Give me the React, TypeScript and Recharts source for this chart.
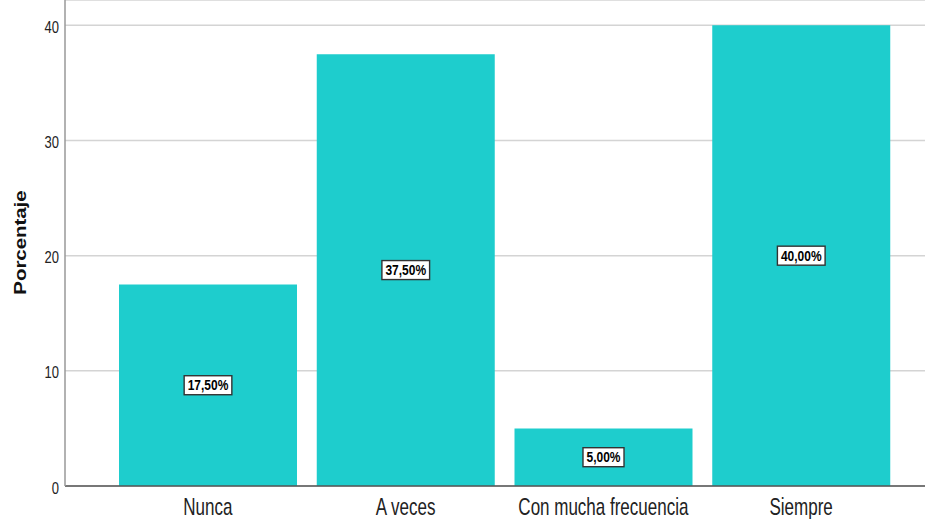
import React from 'react';
import {
    BarChart,
    Bar,
    XAxis,
    YAxis,
    CartesianGrid,
    LabelList,
} from 'recharts';

const categories = ['Nunca', 'A veces', 'Con mucha frecuencia', 'Siempre'];
const percentages = [17.5, 37.5, 5, 40];
const yTicks = [0, 10, 20, 30, 40];

const data = categories.map((c, i) => ({ categoria: c, porcentaje: percentages[i] }));

const FONT = "'Liberation Sans', Arial, sans-serif";
const BAR_COLOR = '#1ecdcd';

const fmt = (v: number) => `${v.toFixed(2).replace('.', ',')}%`;

// rough bold Arial advance widths, just to size the label boxes
const textWidth = (s: string, size: number) =>
    s.split('').reduce((a, ch) => a + (ch === '%' ? 0.889 : ch === ',' ? 0.278 : 0.556), 0) * size;

const XTick = (props: any) => {
    const { x, y, payload } = props;
    return (
        <text
            transform={`translate(${x},${y}) scale(1,1.4)`}
            textAnchor="middle"
            dy="0.71em"
            fontFamily={FONT}
            fontSize={17}
            fill="#222"
        >
            {payload.value}
        </text>
    );
};

const YTick = (props: any) => {
    const { x, y, payload } = props;
    return (
        <text
            transform={`translate(${x},${y + 1.5}) scale(1,1.3)`}
            textAnchor="end"
            dominantBaseline="central"
            fontFamily={FONT}
            fontSize={13}
            fill="#222"
        >
            {payload.value}
        </text>
    );
};

const YTitle = () => (
    <text
        transform="translate(25.5,242.5) rotate(-90) scale(1.2,1)"
        textAnchor="middle"
        fontFamily={FONT}
        fontSize={17}
        fontWeight="bold"
        fill="#111"
    >
        Porcentaje
    </text>
);

const ValueBox = (props: any) => {
    const { x, y, width, height, value } = props;
    const cx = Number(x) + Number(width) / 2;
    const cy = Number(y) + Number(height) / 2;
    const label = fmt(Number(value));
    const w = textWidth(label, 12) + 7;
    return (
        <g>
            <rect x={cx - w / 2} y={cy - 9.5} width={w} height={19} fill="#fff" stroke="#333" strokeWidth={1.4} />
            <text
                transform={`translate(${cx},${cy}) scale(1,1.2)`}
                textAnchor="middle"
                dominantBaseline="central"
                fontFamily={FONT}
                fontSize={12}
                fontWeight="bold"
                fill="#000"
            >
                {label}
            </text>
        </g>
    );
};

export default function App() {
    return (
        <div style={{ position: 'absolute', left: 0, top: 0, width: 925, height: 519, background: '#fff' }}>
            <BarChart width={925} height={519} data={data} margin={{ top: 0, right: 0, bottom: 0, left: 0 }}>
                <CartesianGrid horizontal vertical={false} stroke="#d4d4d4" strokeWidth={1.5} />
                <XAxis
                    dataKey="categoria"
                    interval={0}
                    height={33}
                    padding={{ left: 44, right: 25 }}
                    tickLine={false}
                    tickMargin={6}
                    axisLine={{ stroke: '#555', strokeWidth: 1.5 }}
                    tick={<XTick />}
                />
                <YAxis
                    type="number"
                    width={65}
                    domain={[0, 42.2]}
                    ticks={yTicks}
                    tickLine={false}
                    tickMargin={0}
                    axisLine={{ stroke: '#999', strokeWidth: 1.5 }}
                    tick={<YTick />}
                    label={{ content: () => <YTitle /> }}
                />
                <Bar dataKey="porcentaje" fill={BAR_COLOR} barSize={178} isAnimationActive={false}>
                    <LabelList dataKey="porcentaje" content={<ValueBox />} />
                </Bar>
            </BarChart>
        </div>
    );
}
